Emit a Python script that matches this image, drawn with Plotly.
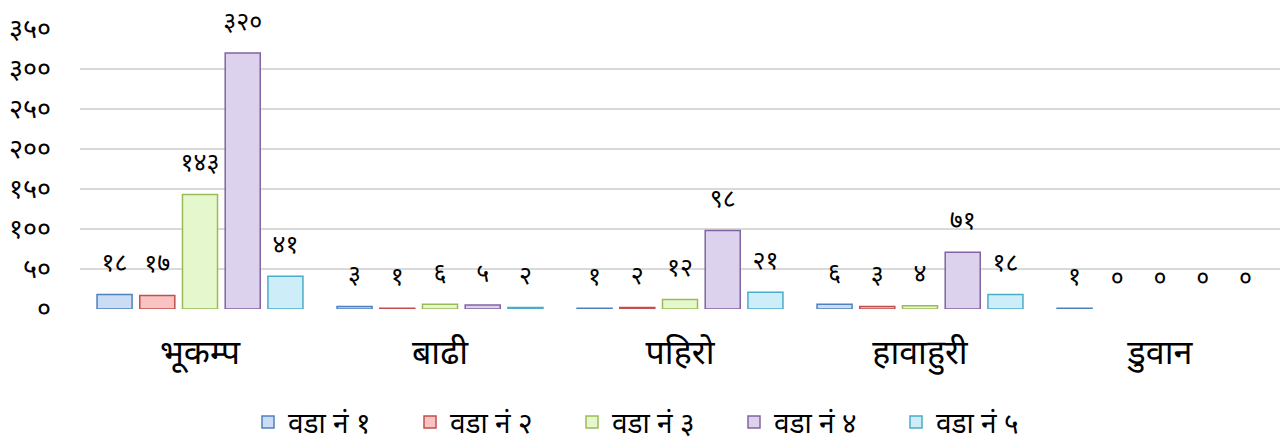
import plotly.graph_objects as go

# Disaster types (categories) and ward series
categories = ["भूकम्प", "बाढी", "पहिरो", "हावाहुरी", "डुवान"]
series_names = ["वडा नं १", "वडा नं २", "वडा नं ३", "वडा नं ४", "वडा नं ५"]

ward1 = [18, 3, 1, 6, 1]
ward2 = [17, 1, 2, 3, 0]
ward3 = [143, 6, 12, 4, 0]
ward4 = [320, 5, 98, 71, 0]
ward5 = [41, 2, 21, 18, 0]

tick_values = [0, 50, 100, 150, 200, 250, 300, 350]

fill_colors = ["#CBDCF5", "#FAC3C3", "#E5F7CC", "#DDD2EE", "#CDEEF9"]
line_colors = ["#4F81BD", "#C0504D", "#9BBB59", "#8064A2", "#4BACC6"]

DEV_DIGITS = str.maketrans("0123456789", "०१२३४५६७८९")


def to_devanagari(n):
    return str(n).translate(DEV_DIGITS)


FONT = "Noto Sans Devanagari, Lohit Devanagari, Mangal, Noto Sans, sans-serif"
GAP = 0.11

fig = go.Figure()
all_series = [ward1, ward2, ward3, ward4, ward5]
for i, (name, vals, fc, lc) in enumerate(zip(series_names, all_series,
                                             fill_colors, line_colors)):
    fig.add_trace(go.Bar(
        name=name,
        x=categories,
        y=vals,
        offsetgroup=str(i),
        marker=dict(
            color=fc,
            # empty bars get no outline
            line=dict(color=lc, width=[1.5 if v > 0 else 0 for v in vals]),
        ),
    ))

# value labels floated above each bar (invisible markers set the gap)
for i, vals in enumerate(all_series):
    fig.add_trace(go.Scatter(
        x=categories,
        y=vals,
        offsetgroup=str(i),
        mode="markers+text",
        text=[to_devanagari(v) for v in vals],
        textposition="top center",
        textfont=dict(size=25, color="#000000", family=FONT),
        marker=dict(size=26, opacity=0),
        cliponaxis=False,
        showlegend=False,
        hoverinfo="skip",
    ))

fig.update_layout(
    width=1288,
    height=443,
    margin=dict(l=80, r=8, t=29, b=134, autoexpand=False),
    paper_bgcolor="white",
    plot_bgcolor="white",
    barmode="group",
    scattermode="group",
    bargap=GAP,
    scattergap=GAP,
    bargroupgap=0.18,
    font=dict(family=FONT, color="#000000"),
    showlegend=True,
    legend=dict(
        orientation="h",
        x=0.4775,
        xanchor="center",
        y=-0.315,
        yanchor="top",
        font=dict(size=28, family=FONT),
        itemwidth=30,
        entrywidth=117,
        traceorder="normal",
    ),
)

fig.update_yaxes(
    range=[0, 350],
    tickvals=tick_values,
    ticktext=[to_devanagari(v) for v in tick_values],
    tickfont=dict(size=27, family=FONT),
    showgrid=True,
    gridcolor="#D9D9D9",
    gridwidth=1.5,
    zeroline=False,
    showline=False,
    ticklabelstandoff=28,
    automargin=False,
)

fig.update_xaxes(
    tickfont=dict(size=34, family=FONT),
    showline=False,
    ticklabelstandoff=20,
    automargin=False,
)

fig.write_html("out.html")
